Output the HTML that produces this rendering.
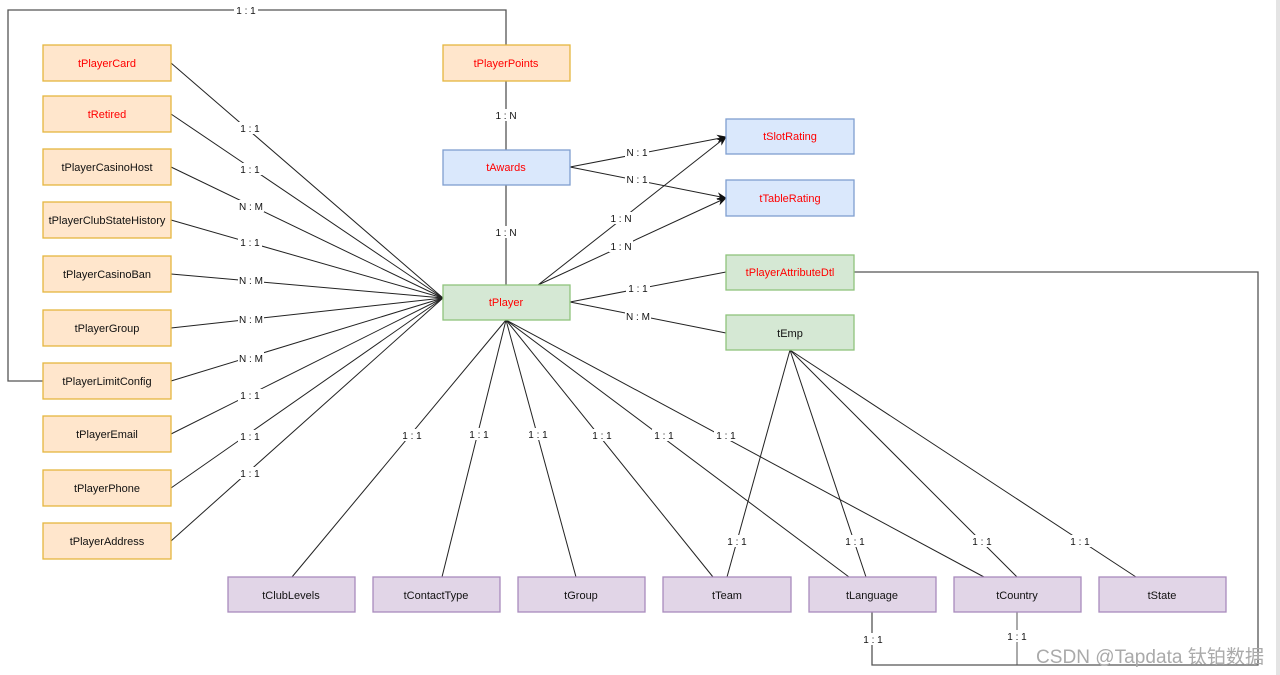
<!DOCTYPE html>
<html><head><meta charset="utf-8"><style>
html,body{margin:0;padding:0;background:#fff;}
svg{display:block;font-family:"Liberation Sans",Helvetica,sans-serif;}
.o{fill:#ffe6cc;stroke:#e5b63f;stroke-width:1.3}
.b{fill:#dae8fc;stroke:#7f9fcf;stroke-width:1.3}
.g{fill:#d5e8d4;stroke:#8fc47c;stroke-width:1.3}
.p{fill:#e1d5e7;stroke:#a98bbd;stroke-width:1.3}
.t{font-size:11px;text-anchor:middle;fill:#111}
.r{fill:#f00}
.l line,.l polyline{stroke:#222;stroke-width:1;fill:none}
.lb{font-size:10px;text-anchor:middle;fill:#111}
.lb rect{fill:#fff}
</style></head><body>
<svg width="1280" height="675" viewBox="0 0 1280 675">
<defs><marker id="a" markerWidth="10" markerHeight="8" refX="9" refY="4" orient="auto" markerUnits="userSpaceOnUse"><path d="M0,0 L10,4 L0,8 L3,4 z" fill="#111"/></marker></defs>
<rect x="1276" y="0" width="4" height="675" fill="#e4e4e4"/>
<g class="l">
<polyline points="43,381 8,381 8,10 506,10 506,45" style="stroke:#555;stroke-width:1.3"/>
<polyline points="854,272 1258,272 1258,665 872,665 872,612" style="stroke:#555;stroke-width:1.3"/>
<line x1="1017" y1="612" x2="1017" y2="665" style="stroke:#555"/>
<line x1="506" y1="81" x2="506" y2="150"/>
<line x1="506" y1="185" x2="506" y2="285"/>
<line x1="171" y1="63" x2="443" y2="298"/>
<line x1="171" y1="114" x2="443" y2="298"/>
<line x1="171" y1="167" x2="443" y2="298"/>
<line x1="171" y1="220" x2="443" y2="298"/>
<line x1="171" y1="274" x2="443" y2="298"/>
<line x1="171" y1="328" x2="443" y2="298"/>
<line x1="171" y1="381" x2="443" y2="298"/>
<line x1="171" y1="434" x2="443" y2="298"/>
<line x1="171" y1="488" x2="443" y2="298"/>
<line x1="171" y1="541" x2="443" y2="298"/>
<line x1="570" y1="167" x2="726" y2="137" marker-end="url(#a)"/>
<line x1="570" y1="167" x2="726" y2="198" marker-end="url(#a)"/>
<line x1="538" y1="285" x2="726" y2="137" marker-end="url(#a)"/>
<line x1="538" y1="285" x2="726" y2="198" marker-end="url(#a)"/>
<line x1="570" y1="302" x2="726" y2="272"/>
<line x1="570" y1="302" x2="726" y2="333"/>
<line x1="506" y1="320" x2="292" y2="577"/>
<line x1="506" y1="320" x2="442" y2="577"/>
<line x1="506" y1="320" x2="576" y2="577"/>
<line x1="506" y1="320" x2="713" y2="577"/>
<line x1="506" y1="320" x2="849" y2="577"/>
<line x1="506" y1="320" x2="984" y2="577"/>
<line x1="790" y1="350" x2="727" y2="577"/>
<line x1="790" y1="350" x2="866" y2="577"/>
<line x1="790" y1="350" x2="1017" y2="577"/>
<line x1="790" y1="350" x2="1136" y2="577"/>
</g>
<g class="lb">
<rect x="234" y="4" width="24" height="12"/><text x="246" y="14">1 : 1</text>
<rect x="494" y="109" width="24" height="12"/><text x="506" y="119">1 : N</text>
<rect x="494" y="226" width="24" height="12"/><text x="506" y="236">1 : N</text>
<rect x="238" y="122" width="24" height="12"/><text x="250" y="132">1 : 1</text>
<rect x="238" y="163" width="24" height="12"/><text x="250" y="173">1 : 1</text>
<rect x="238" y="200" width="26" height="12"/><text x="251" y="210">N : M</text>
<rect x="238" y="236" width="24" height="12"/><text x="250" y="246">1 : 1</text>
<rect x="238" y="274" width="26" height="12"/><text x="251" y="284">N : M</text>
<rect x="238" y="313" width="26" height="12"/><text x="251" y="323">N : M</text>
<rect x="238" y="352" width="26" height="12"/><text x="251" y="362">N : M</text>
<rect x="238" y="389" width="24" height="12"/><text x="250" y="399">1 : 1</text>
<rect x="238" y="430" width="24" height="12"/><text x="250" y="440">1 : 1</text>
<rect x="238" y="467" width="24" height="12"/><text x="250" y="477">1 : 1</text>
<rect x="625" y="146" width="24" height="12"/><text x="637" y="156">N : 1</text>
<rect x="625" y="173" width="24" height="12"/><text x="637" y="183">N : 1</text>
<rect x="609" y="212" width="24" height="12"/><text x="621" y="222">1 : N</text>
<rect x="609" y="240" width="24" height="12"/><text x="621" y="250">1 : N</text>
<rect x="626" y="282" width="24" height="12"/><text x="638" y="292">1 : 1</text>
<rect x="625" y="310" width="26" height="12"/><text x="638" y="320">N : M</text>
<rect x="400" y="429" width="24" height="12"/><text x="412" y="439">1 : 1</text>
<rect x="467" y="428" width="24" height="12"/><text x="479" y="438">1 : 1</text>
<rect x="526" y="428" width="24" height="12"/><text x="538" y="438">1 : 1</text>
<rect x="590" y="429" width="24" height="12"/><text x="602" y="439">1 : 1</text>
<rect x="652" y="429" width="24" height="12"/><text x="664" y="439">1 : 1</text>
<rect x="714" y="429" width="24" height="12"/><text x="726" y="439">1 : 1</text>
<rect x="725" y="535" width="24" height="12"/><text x="737" y="545">1 : 1</text>
<rect x="843" y="535" width="24" height="12"/><text x="855" y="545">1 : 1</text>
<rect x="970" y="535" width="24" height="12"/><text x="982" y="545">1 : 1</text>
<rect x="1068" y="535" width="24" height="12"/><text x="1080" y="545">1 : 1</text>
<rect x="861" y="633" width="24" height="12"/><text x="873" y="643">1 : 1</text>
<rect x="1005" y="630" width="24" height="12"/><text x="1017" y="640">1 : 1</text>
</g>
<g>
<rect class="o" x="43" y="45" width="128" height="36"/><text class="t r" x="107" y="67">tPlayerCard</text>
<rect class="o" x="43" y="96" width="128" height="36"/><text class="t r" x="107" y="118">tRetired</text>
<rect class="o" x="43" y="149" width="128" height="36"/><text class="t" x="107" y="171">tPlayerCasinoHost</text>
<rect class="o" x="43" y="202" width="128" height="36"/><text class="t" x="107" y="224">tPlayerClubStateHistory</text>
<rect class="o" x="43" y="256" width="128" height="36"/><text class="t" x="107" y="278">tPlayerCasinoBan</text>
<rect class="o" x="43" y="310" width="128" height="36"/><text class="t" x="107" y="332">tPlayerGroup</text>
<rect class="o" x="43" y="363" width="128" height="36"/><text class="t" x="107" y="385">tPlayerLimitConfig</text>
<rect class="o" x="43" y="416" width="128" height="36"/><text class="t" x="107" y="438">tPlayerEmail</text>
<rect class="o" x="43" y="470" width="128" height="36"/><text class="t" x="107" y="492">tPlayerPhone</text>
<rect class="o" x="43" y="523" width="128" height="36"/><text class="t" x="107" y="545">tPlayerAddress</text>
<rect class="o" x="443" y="45" width="127" height="36"/><text class="t r" x="506" y="67">tPlayerPoints</text>
<rect class="b" x="443" y="150" width="127" height="35"/><text class="t r" x="506" y="171">tAwards</text>
<rect class="g" x="443" y="285" width="127" height="35"/><text class="t r" x="506" y="306">tPlayer</text>
<rect class="b" x="726" y="119" width="128" height="35"/><text class="t r" x="790" y="140">tSlotRating</text>
<rect class="b" x="726" y="180" width="128" height="36"/><text class="t r" x="790" y="202">tTableRating</text>
<rect class="g" x="726" y="255" width="128" height="35"/><text class="t r" x="790" y="276">tPlayerAttributeDtl</text>
<rect class="g" x="726" y="315" width="128" height="35"/><text class="t" x="790" y="337">tEmp</text>
<rect class="p" x="228" y="577" width="127" height="35"/><text class="t" x="291" y="599">tClubLevels</text>
<rect class="p" x="373" y="577" width="127" height="35"/><text class="t" x="436" y="599">tContactType</text>
<rect class="p" x="518" y="577" width="127" height="35"/><text class="t" x="581" y="599">tGroup</text>
<rect class="p" x="663" y="577" width="128" height="35"/><text class="t" x="727" y="599">tTeam</text>
<rect class="p" x="809" y="577" width="127" height="35"/><text class="t" x="872" y="599">tLanguage</text>
<rect class="p" x="954" y="577" width="127" height="35"/><text class="t" x="1017" y="599">tCountry</text>
<rect class="p" x="1099" y="577" width="127" height="35"/><text class="t" x="1162" y="599">tState</text>
</g>
<text x="1036" y="663" textLength="228" lengthAdjust="spacingAndGlyphs" style="font-family:'Liberation Sans','Noto Sans CJK SC',sans-serif;font-size:19px;fill:#aaa">CSDN @Tapdata 钛铂数据</text>
</svg>
</body></html>
